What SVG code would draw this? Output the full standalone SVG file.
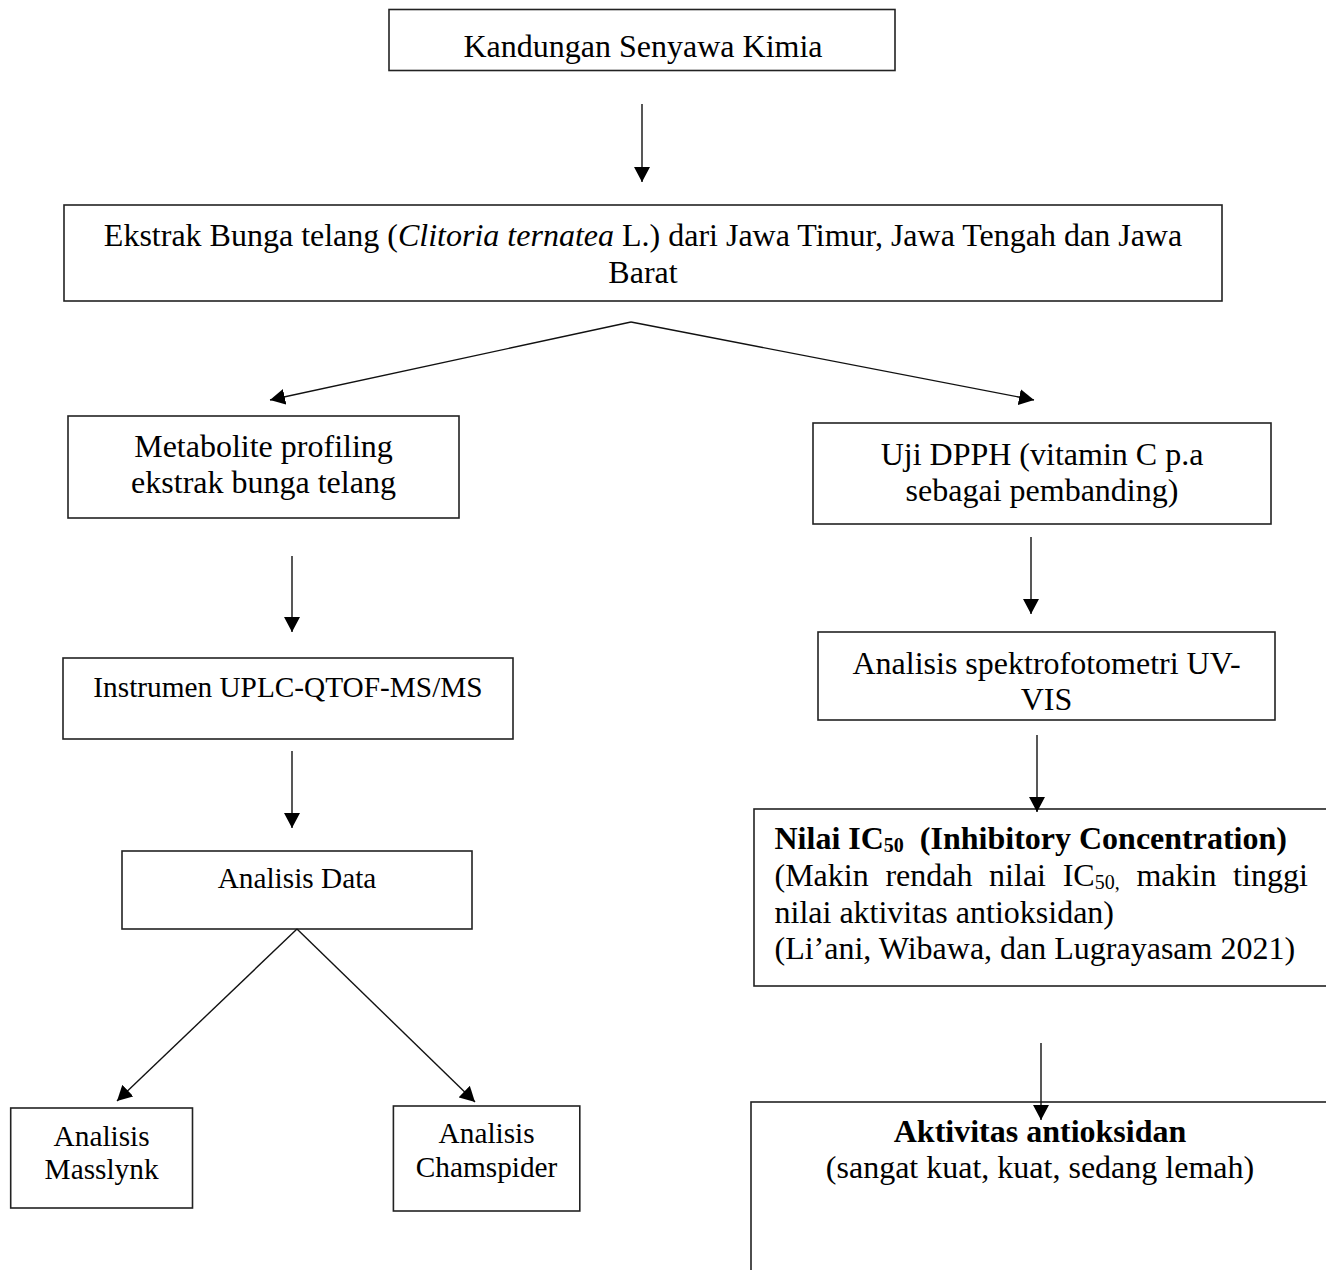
<svg xmlns="http://www.w3.org/2000/svg" width="1326" height="1270" viewBox="0 0 1326 1270">
<style>
.box{fill:#fff;stroke:#222;stroke-width:1.6}
.t{font-family:"Liberation Serif","Times New Roman",serif;fill:#000}
.s32{font-size:32px}
.s29{font-size:29.3px}
.c{text-anchor:middle}
.b{font-weight:bold}
.con{stroke:#111;stroke-width:1.4;fill:none;marker-end:url(#ah)}
</style>
<defs>
<marker id="ah" markerUnits="userSpaceOnUse" markerWidth="16" markerHeight="16" viewBox="0 0 16 16" refX="15" refY="8" orient="auto">
<path d="M0,0 L15,8 L0,16 z" fill="#000"/>
</marker>
</defs>
<rect width="1326" height="1270" fill="#fff"/>
<g id="n1">
<rect class="box" x="389" y="9.5" width="506" height="61"/>
<text class="t s32 c" x="643" y="57">Kandungan Senyawa Kimia</text>
</g>
<g id="n2">
<rect class="box" x="64" y="205" width="1158" height="96"/>
<text class="t s32 c" x="643" y="246">Ekstrak Bunga telang (<tspan font-style="italic">Clitoria ternatea</tspan> L.) dari Jawa Timur, Jawa Tengah dan Jawa</text>
<text class="t s32 c" x="643" y="283">Barat</text>
</g>
<g id="n3">
<rect class="box" x="68" y="416" width="391" height="102"/>
<text class="t s32 c" x="263.5" y="457">Metabolite profiling</text>
<text class="t s32 c" x="263.5" y="493">ekstrak bunga telang</text>
</g>
<g id="n4">
<rect class="box" x="813" y="423" width="458" height="101"/>
<text class="t s32 c" x="1042" y="465">Uji DPPH (vitamin C p.a</text>
<text class="t s32 c" x="1042" y="501">sebagai pembanding)</text>
</g>
<g id="n5">
<rect class="box" x="63" y="658" width="450" height="81"/>
<text class="t s29 c" x="288" y="697">Instrumen UPLC-QTOF-MS/MS</text>
</g>
<g id="n6">
<rect class="box" x="818" y="632" width="457" height="88"/>
<text class="t s32 c" x="1046.5" y="674">Analisis spektrofotometri UV-</text>
<text class="t s32 c" x="1046.5" y="710">VIS</text>
</g>
<g id="n7">
<rect class="box" x="122" y="851" width="350" height="78"/>
<text class="t s29 c" x="297" y="888">Analisis Data</text>
</g>
<g id="n8">
<rect class="box" x="754" y="809" width="580" height="177"/>
<text class="t s32 b" x="774.5" y="849">Nilai IC<tspan font-size="20" dy="3">50</tspan><tspan dy="-3">&#160; (Inhibitory Concentration)</tspan></text>
<text class="t s32" y="885.5"><tspan x="774.5">(Makin</tspan><tspan x="885.4">rendah</tspan><tspan x="989.1">nilai</tspan><tspan x="1062.7">IC</tspan><tspan font-size="20" dy="3">50,</tspan><tspan x="1136.4" dy="-3">makin</tspan><tspan x="1233.1">tinggi</tspan></text>
<text class="t s32" x="774.5" y="922.5">nilai aktivitas antioksidan)</text>
<text class="t s32" x="774.5" y="958.5">(Li’ani, Wibawa, dan Lugrayasam 2021)</text>
</g>
<g id="n9">
<rect class="box" x="10.7" y="1108" width="181.8" height="100"/>
<text class="t s29 c" x="101.6" y="1146">Analisis</text>
<text class="t s29 c" x="101.6" y="1179">Masslynk</text>
</g>
<g id="n10">
<rect class="box" x="393.4" y="1106" width="186.4" height="105"/>
<text class="t s29 c" x="486.6" y="1143">Analisis</text>
<text class="t s29 c" x="486.6" y="1177">Chamspider</text>
</g>
<g id="n11">
<rect class="box" x="751" y="1102" width="583" height="190"/>
<text class="t s32 b c" x="1040" y="1142">Aktivitas antioksidan</text>
<text class="t s32 c" x="1040" y="1178">(sangat kuat, kuat, sedang lemah)</text>
</g>
<g id="connectors">
<line class="con" x1="642" y1="104" x2="642" y2="182"/>
<line class="con" x1="631" y1="322" x2="270" y2="400"/>
<line class="con" x1="631" y1="322" x2="1034" y2="400"/>
<line class="con" x1="292" y1="556" x2="292" y2="632"/>
<line class="con" x1="1031" y1="537" x2="1031" y2="614"/>
<line class="con" x1="292" y1="751" x2="292" y2="828"/>
<line class="con" x1="1037" y1="735" x2="1037" y2="812"/>
<line class="con" x1="297" y1="929" x2="117" y2="1101"/>
<line class="con" x1="297" y1="929" x2="475" y2="1102"/>
<line class="con" x1="1041" y1="1043" x2="1041" y2="1120"/>
</g>
</svg>
